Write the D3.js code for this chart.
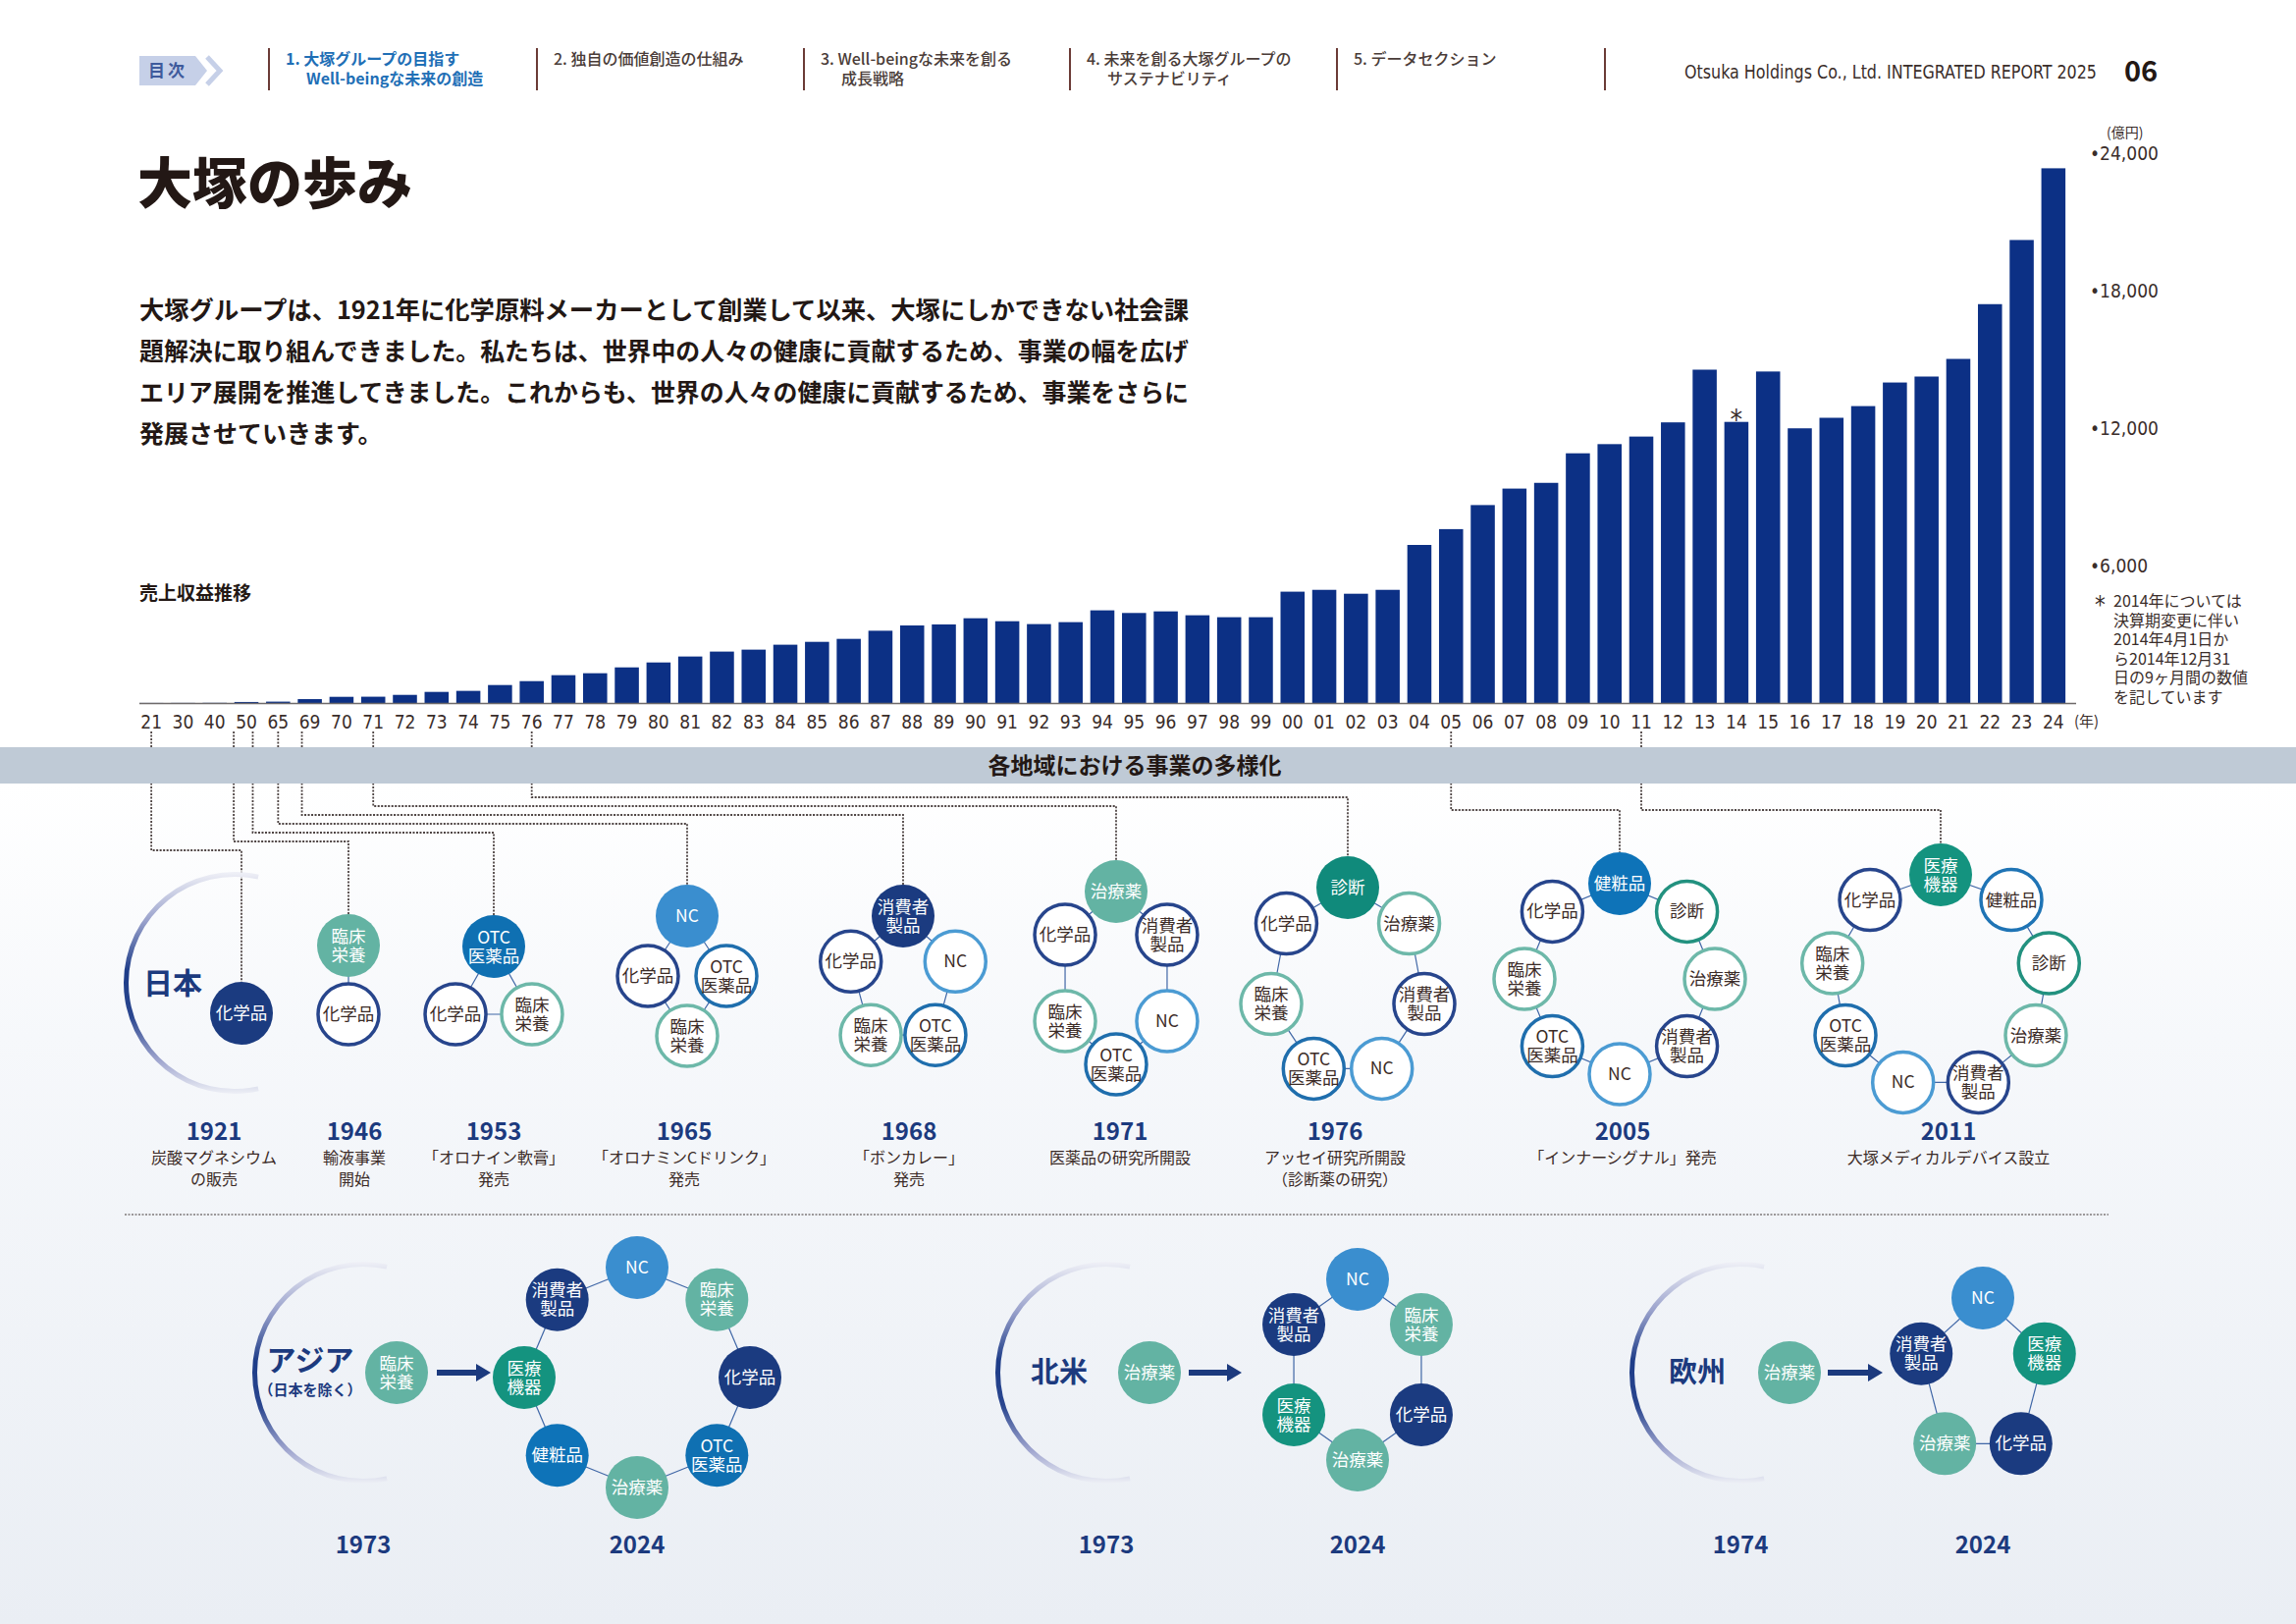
<!DOCTYPE html>
<html>
<head>
<meta charset="utf-8">
<script src="https://cdn.jsdelivr.net/npm/d3@7"></script>
<style>
body { margin: 0; background: #fff; }
svg { display: block; }
</style>
</head>
<body>
<svg id="page"></svg>
<script>
// ---- data ----
var salesYears = [1921, 1930, 1940, 1950, 1965, 1969, 1970, 1971, 1972, 1973, 1974, 1975, 1976, 1977, 1978, 1979,
    1980, 1981, 1982, 1983, 1984, 1985, 1986, 1987, 1988, 1989, 1990, 1991, 1992, 1993, 1994, 1995, 1996, 1997,
    1998, 1999, 2000, 2001, 2002, 2003, 2004, 2005, 2006, 2007, 2008, 2009, 2010, 2011, 2012, 2013, 2014, 2015,
    2016, 2017, 2018, 2019, 2020, 2021, 2022, 2023, 2024]
// 売上収益 (億円)
var sales = [3, 5, 8, 45, 60, 170, 270, 275, 355, 485, 530, 785, 955, 1215, 1300, 1555,
    1770, 2030, 2245, 2330, 2545, 2670, 2800, 3155, 3385, 3430, 3700, 3570, 3445, 3530, 4045, 3930, 4000, 3830,
    3745, 3745, 4860, 4940, 4770, 4940, 6900, 7590, 8640, 9360, 9610, 10900, 11300, 11630, 12250, 14550, 12270, 14470,
    11990, 12450, 12960, 13990, 14250, 15020, 17410, 20210, 23340]
var yTicks = [6000, 12000, 18000, 24000]
var noteYear = 2014
var noteLines = ["2014年については", "決算期変更に伴い", "2014年4月1日か", "ら2014年12月31", "日の9ヶ月間の数値", "を記しています"]

var navLabels = [["1. 大塚グループの目指す", "Well-beingな未来の創造"], ["2. 独自の価値創造の仕組み"],
    ["3. Well-beingな未来を創る", "成長戦略"], ["4. 未来を創る大塚グループの", "サステナビリティ"], ["5. データセクション"]]

var introLines = ["大塚グループは、1921年に化学原料メーカーとして創業して以来、大塚にしかできない社会課",
    "題解決に取り組んできました。私たちは、世界中の人々の健康に貢献するため、事業の幅を広げ",
    "エリア展開を推進してきました。これからも、世界の人々の健康に貢献するため、事業をさらに",
    "発展させていきます。"]

var milestoneYears = [1921, 1946, 1953, 1965, 1968, 1971, 1976, 2005, 2011]
var milestoneText = [["炭酸マグネシウム", "の販売"], ["輸液事業", "開始"], ["「オロナイン軟膏」", "発売"],
    ["「オロナミンCドリンク」", "発売"], ["「ボンカレー」", "発売"], ["医薬品の研究所開設"],
    ["アッセイ研究所開設", "（診断薬の研究）"], ["「インナーシグナル」発売"], ["大塚メディカルデバイス設立"]]
// first entry of each ring = business added that year
var milestoneRings = [
    ["化学品"],
    ["臨床栄養", "化学品"],
    ["OTC医薬品", "臨床栄養", "化学品"],
    ["NC", "OTC医薬品", "臨床栄養", "化学品"],
    ["消費者製品", "NC", "OTC医薬品", "臨床栄養", "化学品"],
    ["治療薬", "消費者製品", "NC", "OTC医薬品", "臨床栄養", "化学品"],
    ["診断", "治療薬", "消費者製品", "NC", "OTC医薬品", "臨床栄養", "化学品"],
    ["健粧品", "診断", "治療薬", "消費者製品", "NC", "OTC医薬品", "臨床栄養", "化学品"],
    ["医療機器", "健粧品", "診断", "治療薬", "消費者製品", "NC", "OTC医薬品", "臨床栄養", "化学品"]
]

var regionNames = ["アジア", "北米", "欧州"]
var regionSubs = ["（日本を除く）", "", ""]
var regionStartYears = [1973, 1973, 1974]
var regionStart = ["臨床栄養", "治療薬", "治療薬"]
var regionNowYear = 2024
var regionRings = [
    ["NC", "臨床栄養", "化学品", "OTC医薬品", "治療薬", "健粧品", "医療機器", "消費者製品"],
    ["NC", "臨床栄養", "化学品", "治療薬", "医療機器", "消費者製品"],
    ["NC", "医療機器", "化学品", "治療薬", "消費者製品"]
]

// ---- styles / layout ----
var W = 2339, H = 1654
var JP = "'Noto Sans CJK JP', 'Noto Sans', sans-serif"
var NARROW = "'Liberation Sans Narrow', 'DejaVu Sans Condensed', 'Roboto', sans-serif"
var ink = "#231815", navy = "#1c3a7e", brown = "#3b2b27"

var catFill = {"化学品": "#1b3b80", "消費者製品": "#1b3b80", "OTC医薬品": "#0f70b2", "NC": "#3a8ecf",
    "臨床栄養": "#63b3a3", "治療薬": "#63b3a3", "診断": "#108a7b", "健粧品": "#0e73b8", "医療機器": "#14937f"}
var catStroke = {"化学品": "#27458c", "消費者製品": "#27458c", "OTC医薬品": "#1f6ead", "NC": "#4b9bd3",
    "臨床栄養": "#6db8a9", "治療薬": "#6db8a9", "診断": "#22917f", "健粧品": "#1f74b5", "医療機器": "#14937f"}
var catLines = {"臨床栄養": ["臨床", "栄養"], "OTC医薬品": ["OTC", "医薬品"], "消費者製品": ["消費者", "製品"], "医療機器": ["医療", "機器"]}

var ringLayout = [
    {cx: 246, cy: 1032, rx: 0, ry: 0, lx: 218},
    {cx: 355, cy: 998, rx: 0, ry: 35, lx: 361},
    {cx: 503, cy: 1010, rx: 45, ry: 46, lx: 503},
    {cx: 700, cy: 994, rx: 40, ry: 61, lx: 697},
    {cx: 920, cy: 1000, rx: 56, ry: 67, lx: 926},
    {cx: 1137, cy: 996, rx: 60, ry: 88, lx: 1141},
    {cx: 1373, cy: 1001, rx: 80, ry: 97, lx: 1360},
    {cx: 1650, cy: 997, rx: 97, ry: 97, lx: 1653},
    {cx: 1977, cy: 1000, rx: 112, ry: 109, lx: 1985}
]
var regionLayout = [
    {ax: 370, ay: 1398, sx: 404, lx: 316, a0: 445, a1: 500, cx: 649, cy: 1403, rx: 115, ry: 112},
    {ax: 1127, ay: 1398, sx: 1171, lx: 1079, a0: 1211, a1: 1265, cx: 1383, cy: 1395, rx: 75, ry: 92},
    {ax: 1773, ay: 1398, sx: 1823, lx: 1729, a0: 1862, a1: 1918, cx: 2020, cy: 1404, rx: 66, ry: 82}
]
var R = 31

var svg = d3.select("#page").attr("width", W).attr("height", H)
var defs = svg.append("defs")

var bg = defs.append("linearGradient").attr("id", "bgGrad").attr("x1", 0).attr("y1", 0).attr("x2", 0).attr("y2", 1)
bg.append("stop").attr("offset", 0).attr("stop-color", "#ffffff")
bg.append("stop").attr("offset", 0.3).attr("stop-color", "#f6f8fb")
bg.append("stop").attr("offset", 1).attr("stop-color", "#eaeef4")

var ag = defs.append("linearGradient").attr("id", "arcGrad").attr("x1", 0).attr("y1", 0).attr("x2", 0).attr("y2", 1)
ag.append("stop").attr("offset", 0).attr("stop-color", "#f0f1f7")
ag.append("stop").attr("offset", 0.22).attr("stop-color", "#9aa2cc")
ag.append("stop").attr("offset", 0.45).attr("stop-color", "#1d3c88")
ag.append("stop").attr("offset", 0.65).attr("stop-color", "#2a468f")
ag.append("stop").attr("offset", 0.85).attr("stop-color", "#a0a6cf")
ag.append("stop").attr("offset", 1).attr("stop-color", "#eef0f6")

svg.append("rect").attr("x", 0).attr("y", 798).attr("width", W).attr("height", H - 798).attr("fill", "url(#bgGrad)")

// multi-line text as one element
function multiText(g, px, py, lines, lh) {
    var t = g.append("text").attr("x", px).attr("y", py)
    lines.forEach(function(s, j) {
        t.append("tspan").attr("x", px).attr("dy", j == 0 ? 0 : lh).text(s)
    })
    return t
}

// ---- header ----
var head = svg.append("g")
head.append("path").attr("d", "M142,57 H199 L211,72 L199,87 H142 Z").attr("fill", "#c6d0e8")
head.append("path").attr("d", "M211,58 L224,72 L211,86").attr("fill", "none").attr("stroke", "#c6d0e8").attr("stroke-width", 5)
head.append("text").attr("x", 171).attr("y", 78).attr("text-anchor", "middle")
    .style("font-family", JP).style("font-size", "17px").style("font-weight", "bold").style("letter-spacing", "3px")
    .attr("fill", "#3e5a9c").text("目次")

var sepX = [274, 547, 819, 1090, 1362, 1635]
sepX.forEach(function(sx) {
    head.append("line").attr("x1", sx).attr("x2", sx).attr("y1", 49).attr("y2", 92)
        .attr("stroke", "#6b3b36").attr("stroke-width", 2)
})
navLabels.forEach(function(lines, i) {
    var t = head.append("text").attr("y", 66)
        .style("font-family", JP).style("font-size", "16px")
        .style("font-weight", i == 0 ? "bold" : "500")
        .attr("fill", i == 0 ? "#1f6fb6" : "#4a3c38")
    lines.forEach(function(s, j) {
        t.append("tspan").attr("x", sepX[i] + (j == 0 ? 17 : 38)).attr("dy", j == 0 ? 0 : 20).text(s)
    })
})
head.append("text").attr("x", 1716).attr("y", 80).attr("textLength", 420).attr("lengthAdjust", "spacingAndGlyphs")
    .style("font-family", NARROW).style("font-size", "19px").attr("fill", "#3a2d2a")
    .text("Otsuka Holdings Co., Ltd. INTEGRATED REPORT 2025")
head.append("text").attr("x", 2164).attr("y", 83)
    .style("font-family", JP).style("font-size", "29px").style("font-weight", "bold").attr("fill", ink).text("06")

// ---- title & intro ----
svg.append("text").attr("x", 140).attr("y", 207)
    .style("font-family", JP).style("font-size", "56px").style("font-weight", "900").attr("fill", ink).text("大塚の歩み")
introLines.forEach(function(t, i) {
    var tx = svg.append("text").attr("x", 142).attr("y", 325 + i * 42)
        .style("font-family", JP).style("font-size", "25px").style("font-weight", "bold").attr("fill", ink).text(t)
    if (i < introLines.length - 1) tx.attr("textLength", 1069).attr("lengthAdjust", "spacingAndGlyphs")
})

// ---- sales bar chart ----
var x = d3.scaleBand().domain(salesYears).range([138, 2108]).paddingInner(0.24).paddingOuter(0.12)
var y = d3.scaleLinear().domain([0, 24000]).range([716, 156])
var chart = svg.append("g")

chart.append("text").attr("x", 142).attr("y", 611)
    .style("font-family", JP).style("font-size", "19px").style("font-weight", "bold").attr("fill", ink).text("売上収益推移")

chart.selectAll("rect.bar").data(salesYears).enter().append("rect")
    .attr("class", "bar")
    .attr("x", function(d) { return x(d) })
    .attr("width", x.bandwidth())
    .attr("y", function(d, i) { return y(sales[i]) })
    .attr("height", function(d, i) { return y(0) - y(sales[i]) })
    .attr("fill", "#0c3085")

chart.append("line").attr("x1", 142).attr("x2", 2115).attr("y1", y(0) + 0.5).attr("y2", y(0) + 0.5)
    .attr("stroke", "#6e6a6a").attr("stroke-width", 1.5)

var xAxis = chart.append("g").attr("transform", "translate(0," + y(0) + ")")
    .call(d3.axisBottom(x).tickSize(0).tickPadding(13).tickFormat(function(d) { return String(d).slice(2) }))
xAxis.select(".domain").remove()
xAxis.selectAll("text").style("font-family", NARROW).style("font-size", "19px").attr("fill", "#3a2d2a")
chart.append("text").attr("x", 2113).attr("y", 740)
    .style("font-family", JP).style("font-size", "15px").attr("fill", "#3a2d2a").text("(年)")

var yAxis = chart.append("g").attr("transform", "translate(2129,0)")
    .call(d3.axisRight(y).tickValues(yTicks).tickSize(0).tickPadding(0).tickFormat(function(d) { return "•" + d3.format(",")(d) }))
yAxis.select(".domain").remove()
yAxis.selectAll("text").style("font-family", NARROW).style("font-size", "19px").attr("fill", "#3a2d2a")
chart.append("text").attr("x", 2146).attr("y", 140)
    .style("font-family", JP).style("font-size", "14px").attr("fill", "#3a2d2a").text("(億円)")

var ni = salesYears.indexOf(noteYear)
chart.append("text").attr("x", x(noteYear) + x.bandwidth() / 2).attr("y", y(sales[ni]) + 7)
    .attr("text-anchor", "middle").style("font-family", NARROW).style("font-size", "28px").attr("fill", "#3a2d2a").text("*")
chart.append("text").attr("x", 2134).attr("y", 624)
    .style("font-family", NARROW).style("font-size", "24px").attr("fill", "#3a2d2a").text("*")
multiText(chart, 2153, 618, noteLines, 19.5)
    .style("font-family", JP).style("font-size", "16px").attr("fill", "#3a2d2a")

// position of any year along the bar axis (between category labels)
function yearX(yr) {
    var step = x.step(), half = x.bandwidth() / 2
    for (var i = 0; i < salesYears.length - 1; i++) {
        if (yr >= salesYears[i] && yr < salesYears[i + 1]) {
            return x(salesYears[i]) + half + (yr - salesYears[i]) / (salesYears[i + 1] - salesYears[i]) * step
        }
    }
    return x(salesYears[salesYears.length - 1]) + half
}

function ringPos(n, i, L) {
    if (n === 1) return [L.cx, L.cy]
    var a = -Math.PI / 2 + i * 2 * Math.PI / n
    return [L.cx + L.rx * Math.cos(a), L.cy + L.ry * Math.sin(a)]
}

// ---- dashed connectors ----
var conn = svg.append("g")
milestoneYears.forEach(function(yr, i) {
    var L = ringLayout[i]
    var top = ringPos(milestoneRings[i].length, 0, L)
    var level = yr > 2000 ? 825 : 812 + (6 - i) * 9
    var x0 = yearX(yr)
    conn.append("path")
        .attr("d", "M" + x0 + ",745 V" + level + " H" + top[0] + " V" + (top[1] - R - 1))
        .attr("fill", "none").attr("stroke", "#4e4443").attr("stroke-width", 1.8).attr("stroke-dasharray", "2,1.5")
})

// ---- band ----
svg.append("rect").attr("x", 0).attr("y", 761).attr("width", W).attr("height", 37).attr("fill", "#bfcad6")
svg.append("text").attr("x", 1156).attr("y", 788).attr("text-anchor", "middle")
    .style("font-family", JP).style("font-size", "23px").style("font-weight", "bold").attr("fill", ink)
    .text("各地域における事業の多様化")

// ---- helpers ----
var arcGen = d3.arc()
function regionArc(g, cx, cy) {
    g.append("path").attr("transform", "translate(" + cx + "," + cy + ")")
        .attr("d", arcGen({innerRadius: 108, outerRadius: 113, startAngle: Math.PI - 0.22, endAngle: 2 * Math.PI + 0.22}))
        .attr("fill", "url(#arcGrad)")
}
function node(g, cat, px, py, filled) {
    g.append("circle").attr("cx", px).attr("cy", py).attr("r", filled ? R + 1 : R)
        .attr("fill", filled ? catFill[cat] : "#fff")
        .attr("stroke", filled ? "none" : catStroke[cat]).attr("stroke-width", 3.5)
    var lines = catLines[cat] || [cat]
    multiText(g, px, py - (lines.length - 1) * 9.5 + 6, lines, 19)
        .attr("text-anchor", "middle")
        .style("font-family", JP).style("font-size", "17.5px")
        .attr("fill", filled ? "#fff" : brown)
}
function ring(g, cats, L, allFilled) {
    var n = cats.length
    var pts = cats.map(function(c, i) { return ringPos(n, i, L) })
    if (n > 1) {
        var edges = n === 2 ? 1 : n
        for (var i = 0; i < edges; i++) {
            var a = pts[i], b = pts[(i + 1) % n]
            g.append("line").attr("x1", a[0]).attr("y1", a[1]).attr("x2", b[0]).attr("y2", b[1])
                .attr("stroke", "#3f66a6").attr("stroke-width", 1.2)
        }
    }
    cats.forEach(function(c, i) { node(g, c, pts[i][0], pts[i][1], allFilled || i === 0) })
}

// ---- Japan milestones ----
var jp = svg.append("g")
regionArc(jp, 239, 1001)
jp.append("text").attr("x", 176).attr("y", 1012).attr("text-anchor", "middle")
    .style("font-family", JP).style("font-size", "30px").style("font-weight", "bold").attr("fill", navy).text("日本")
milestoneYears.forEach(function(yr, i) {
    var L = ringLayout[i]
    ring(jp, milestoneRings[i], L, false)
    jp.append("text").attr("x", L.lx).attr("y", 1161).attr("text-anchor", "middle")
        .style("font-family", JP).style("font-size", "24px").style("font-weight", "bold").attr("fill", navy).text(yr)
    multiText(jp, L.lx, 1185, milestoneText[i], 22).attr("text-anchor", "middle")
        .style("font-family", JP).style("font-size", "16px").attr("fill", brown)
})

svg.append("line").attr("x1", 127).attr("x2", 2148).attr("y1", 1237).attr("y2", 1237)
    .attr("stroke", "#7d7878").attr("stroke-width", 1.5).attr("stroke-dasharray", "2,1.5")

// ---- overseas regions ----
var rg = svg.append("g")
regionNames.forEach(function(name, i) {
    var L = regionLayout[i]
    regionArc(rg, L.ax, L.ay)
    var lt = rg.append("text").attr("text-anchor", "middle")
        .style("font-family", JP).style("font-weight", "bold").attr("fill", navy)
    if (regionSubs[i]) {
        lt.attr("y", L.ay - 2)
        lt.append("tspan").attr("x", L.lx).style("font-size", "30px").text(name)
        lt.append("tspan").attr("x", L.lx).attr("dy", 25).style("font-size", "15px").text(regionSubs[i])
    } else {
        lt.attr("x", L.lx).attr("y", L.ay + 10).style("font-size", "29px").text(name)
    }
    node(rg, regionStart[i], L.sx, L.ay, true)
    rg.append("path")
        .attr("d", "M" + L.a0 + "," + (L.ay - 3) + " H" + (L.a1 - 15) + " V" + (L.ay - 9) + " L" + L.a1 + "," + L.ay +
            " L" + (L.a1 - 15) + "," + (L.ay + 9) + " V" + (L.ay + 3) + " H" + L.a0 + " Z")
        .attr("fill", navy)
    ring(rg, regionRings[i], L, true)
    rg.append("text").attr("x", L.ax).attr("y", 1582).attr("text-anchor", "middle")
        .style("font-family", JP).style("font-size", "24px").style("font-weight", "bold").attr("fill", navy).text(regionStartYears[i])
    rg.append("text").attr("x", L.cx).attr("y", 1582).attr("text-anchor", "middle")
        .style("font-family", JP).style("font-size", "24px").style("font-weight", "bold").attr("fill", navy).text(regionNowYear)
})
</script>
</body>
</html>
